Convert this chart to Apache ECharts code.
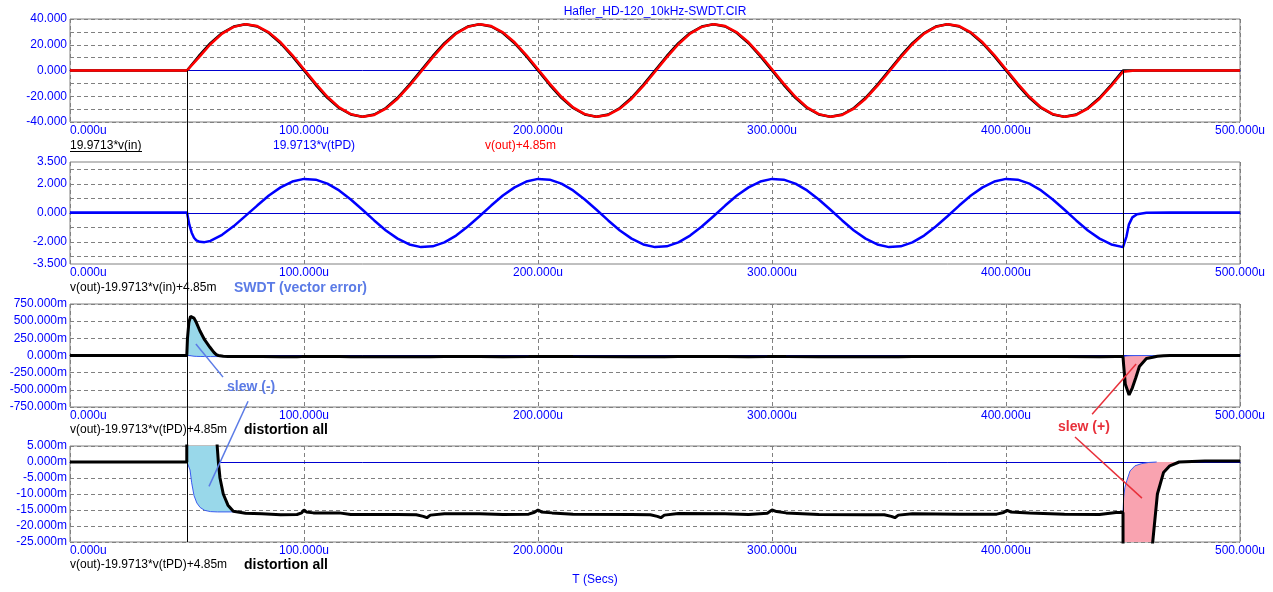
<!DOCTYPE html>
<html><head><meta charset="utf-8">
<script src="https://cdn.jsdelivr.net/npm/echarts@6/dist/echarts.min.js"></script>
<style>html,body{margin:0;padding:0;background:#fff}#c{width:1273px;height:592px}</style>
</head><body><div id="c"></div>
<script>
const FONT = "'Liberation Sans', Arial, sans-serif";

// ---------- DATA (time in µs) ----------
// Panel 1: 19.9713*v(in) and v(out)+4.85m  (V)
const sineT = [0,50,55,60,65,70,75,80,85,90,95,100,105,110,115,120,125,130,135,140,145,
  150,155,160,165,170,175,180,185,190,195,200,205,210,215,220,225,230,235,240,245,
  250,255,260,265,270,275,280,285,290,295,300,305,310,315,320,325,330,335,340,345,
  350,355,360,365,370,375,380,385,390,395,400,405,410,415,420,425,430,435,440,445,450,455,500];
const vIn = [0,
  0,11.1,21.2,29.1,34.2,36.0,34.2,29.1,21.2,11.1,0,-11.1,-21.2,-29.1,-34.2,-36.0,-34.2,-29.1,-21.2,-11.1,
  0,11.1,21.2,29.1,34.2,36.0,34.2,29.1,21.2,11.1,0,-11.1,-21.2,-29.1,-34.2,-36.0,-34.2,-29.1,-21.2,-11.1,
  0,11.1,21.2,29.1,34.2,36.0,34.2,29.1,21.2,11.1,0,-11.1,-21.2,-29.1,-34.2,-36.0,-34.2,-29.1,-21.2,-11.1,
  0,11.1,21.2,29.1,34.2,36.0,34.2,29.1,21.2,11.1,0,-11.1,-21.2,-29.1,-34.2,-36.0,-34.2,-29.1,-21.2,-11.1,
  0,0,0];
const vOut = [0,
  0.0,10.0,20.4,28.6,33.9,36.0,34.5,29.6,21.9,12.0,1.0,-10.2,-20.4,-28.6,-33.9,-36.0,-34.5,-29.6,-21.9,-12.0,
  -1.0,10.2,20.4,28.6,33.9,36.0,34.5,29.6,21.9,12.0,1.0,-10.2,-20.4,-28.6,-33.9,-36.0,-34.5,-29.6,-21.9,-12.0,
  -1.0,10.2,20.4,28.6,33.9,36.0,34.5,29.6,21.9,12.0,1.0,-10.2,-20.4,-28.6,-33.9,-36.0,-34.5,-29.6,-21.9,-12.0,
  -1.0,10.2,20.4,28.6,33.9,36.0,34.5,29.6,21.9,12.0,1.0,-10.2,-20.4,-28.6,-33.9,-36.0,-34.5,-29.6,-21.9,-12.0,
  -1.0,0.0,0.0];

// Panel 2: v(out)-19.9713*v(in)+4.85m  (V)
const errT = [0,50,51,52,53,54,55.5,57.5,60,65,70,75,
  80,85,90,95,100,105,110,115,120,125,130,135,140,145,150,155,160,165,170,175,
  180,185,190,195,200,205,210,215,220,225,230,235,240,245,250,255,260,265,270,275,
  280,285,290,295,300,305,310,315,320,325,330,335,340,345,350,355,360,365,370,375,
  380,385,390,395,400,405,410,415,420,425,430,435,440,445,
  450,450.6,451.5,452.5,454,456,460,470,500];
const errV = [0.04,0.04,-0.8,-1.35,-1.7,-1.88,-1.98,-2.0,-1.92,-1.5,-0.9,-0.2,
  0.51,1.20,1.76,2.16,2.34,2.29,2.02,1.55,0.93,0.22,-0.51,-1.20,-1.76,-2.16,-2.34,-2.29,-2.02,-1.55,-0.93,-0.22,
  0.51,1.20,1.76,2.16,2.34,2.29,2.02,1.55,0.93,0.22,-0.51,-1.20,-1.76,-2.16,-2.34,-2.29,-2.02,-1.55,-0.93,-0.22,
  0.51,1.20,1.76,2.16,2.34,2.29,2.02,1.55,0.93,0.22,-0.51,-1.20,-1.76,-2.16,-2.34,-2.29,-2.02,-1.55,-0.93,-0.22,
  0.51,1.20,1.76,2.16,2.34,2.29,2.02,1.55,0.93,0.22,-0.51,-1.20,-1.76,-2.16,
  -2.34,-2.3,-1.6,-0.8,-0.3,-0.08,0.02,0.04,0.04];

// Panels 3 & 4: v(out)-19.9713*v(tPD)+4.85m  (mV)  [t, mV]
const distAll = [[0,0],[49.9,0],[50.2,250],[50.8,480],[51.5,570],[52.2,575],[53,545],[54,480],[55.5,360],
  [57.5,230],[59.8,120],[61.5,45],[62.5,12],[62.9,5],[63.4,0],[64.1,-5],[65.5,-10],[67.5,-13.5],[69.8,-15.4],
  [75,-16.0],[82,-16.2],[90,-16.5],[97,-16.4],[99,-15.9],[100,-15.0],[101,-15.6],[104,-15.9],[115,-15.9],
  [120,-16.4],[140,-16.4],[148,-16.5],[151,-17.0],[152.5,-17.4],[154,-16.6],[160,-16.2],[175,-16.2],[185,-16.4],
  [196,-16.3],[198.5,-15.7],[200,-15.0],[201.5,-15.6],[206,-15.9],[215,-16.3],[240,-16.4],[248,-16.5],[251,-17.0],
  [252.5,-17.4],[254,-16.6],[260,-16.1],[280,-16.2],[290,-16.4],[298,-16.0],[300,-15.0],[302,-15.5],[306,-15.9],
  [320,-16.4],[340,-16.5],[348,-16.5],[351,-17.0],[352.5,-17.4],[354,-16.6],[360,-16.2],[380,-16.3],[396,-16.3],
  [399,-15.8],[400.5,-15.1],[402,-15.6],[410,-15.9],[425,-16.3],[440,-16.4],[447,-15.8],[450,-15.8],
  [450.3,-150],[451,-420],[452.6,-575],[454,-470],[455.5,-320],[457,-160],[460,-45],[462.7,-25],[464.7,-10],
  [467.3,-3.3],[470,-1.2],[474,0],[485,0.3],[500,0.3]];
// reference (slew-free) curve bounding the slew areas  [t, mV]
const refNeg = [[50,0],[50.4,-0.6],[51.3,-2.5],[52,-6.5],[53,-10.5],[54.2,-12.8],[55.6,-14.2],[57.5,-15.1],
  [60,-15.5],[63,-15.6],[70,-15.6]];
const refPos = [[450,-15.8],[450.3,-11],[450.8,-8],[451.6,-5.9],[453,-2.8],[455.1,-1.2],[458,-0.5],[461,-0.15],[464.4,0]];

const cursorsUs = [50, 450];
const xTicksUs = [0, 500, 100];        // min, max, step
const yRanges = [[-40,40,10],[-3.5,3.5,null],[-750,750,250],[-25,5,5]];
const y2Labels = [-3.5,-2,0,2,3.5];
const y2Grid = [-3,-2,-1,0,1,2,3];

// ---------- CHART ----------
const pair = (T,V) => T.map((t,i)=>[t,V[i]]);
const gridsPx = [{top:19,h:103},{top:162,h:102},{top:304,h:103},{top:446,h:96}];
const blueTxt = '#0000ff';

const xAxes = gridsPx.map((g,i)=>({
  gridIndex:i, type:'value', min:xTicksUs[0], max:xTicksUs[1], interval:xTicksUs[2], position:'bottom',
  axisLine:{show:false, onZero:false}, axisTick:{show:false},
  splitLine:{show:true, lineStyle:{color:'#808080', type:[4,3], width:1}},
  axisLabel:{color:blueTxt, fontSize:12, fontFamily:FONT, margin:3, alignMinLabel:'left',
    showMinLabel:true, showMaxLabel:true, formatter:v=>v.toFixed(3)+'u'}
}));
// zero-line axes (blue line at y = 0 in every panel, drawn beneath the traces)
const zeroAxes = gridsPx.map((g,i)=>({
  gridIndex:i, type:'value', min:xTicksUs[0], max:xTicksUs[1], position:'bottom', z:0,
  axisLine:{show:true, onZero:true, lineStyle:{color:'#0000d0', width:1}},
  axisTick:{show:false}, axisLabel:{show:false}, splitLine:{show:false}
}));
const yAxes = yRanges.map((r,i)=>{
  const ax = {gridIndex:i, type:'value', min:r[0], max:r[1],
    axisLine:{show:false}, axisTick:{show:false},
    splitLine:{show:true, lineStyle:{color:'#808080', type:[4,3], width:1}},
    axisLabel:{color:blueTxt, fontSize:12, fontFamily:FONT, margin:3, showMinLabel:true, showMaxLabel:true}};
  if (r[2] !== null) ax.interval = r[2];
  if (i===0) ax.axisLabel.formatter = v => (Math.abs(v)%20===0 ? v.toFixed(3) : '');
  if (i===1) { ax.axisLabel.customValues = y2Labels; ax.axisTick.customValues = y2Grid; ax.axisLabel.formatter = v=>v.toFixed(3); }
  if (i>=2) ax.axisLabel.formatter = v => v.toFixed(3)+'m';
  return ax;
});

function lineS(i, data, color, w, z){
  return {type:'line', xAxisIndex:i, yAxisIndex:i, data, showSymbol:false, symbol:'none', z, silent:true,
    lineStyle:{color, width:w}, clip:true};
}
function fillS(i, poly, color, z){
  return {type:'custom', xAxisIndex:i, yAxisIndex:i, z, silent:true, data:[[0,0]],
    renderItem(params, api){
      const cs = params.coordSys;
      return {type:'polygon', shape:{points: poly.map(p=>api.coord(p))}, style:{fill:color},
        clipPath:{type:'rect', shape:{x:cs.x, y:cs.y, width:cs.width, height:cs.height}}};
    }};
}
const inRange = (arr,a,b)=>arr.filter(p=>p[0]>=a && p[0]<=b);
const polyNeg = inRange(distAll,50,69.8).concat(refNeg.slice().reverse());
const polyPos = refPos.concat(inRange(distAll,450,474).reverse());

const FILL_NEG = '#99d8ea', FILL_POS = '#f9a3b0';
const series = [
  lineS(0, pair(sineT,vIn), '#000000', 2.5, 2),
  lineS(0, pair(sineT,vOut), '#ff0000', 2.5, 3),
  lineS(1, pair(errT,errV), '#0000ff', 2.5, 3),
  fillS(2, polyNeg, FILL_NEG, 2), fillS(2, polyPos, FILL_POS, 2),
  lineS(2, refNeg, '#3a5cf0', 1, 3), lineS(2, refPos, '#3a5cf0', 1, 3),
  lineS(2, distAll, '#000000', 3, 4),
  fillS(3, polyNeg, FILL_NEG, 2), fillS(3, polyPos, FILL_POS, 2),
  lineS(3, refNeg, '#3a5cf0', 1, 3), lineS(3, refPos, '#3a5cf0', 1, 3),
  lineS(3, distAll, '#000000', 3, 4)
];

const chart = echarts.init(document.getElementById('c'), null, {renderer:'canvas'});
chart.setOption({
  animation:false, backgroundColor:'#ffffff', textStyle:{fontFamily:FONT},
  grid: gridsPx.map(g=>({left:70, right:33, top:g.top, height:g.h, show:true,
    borderColor:'#808080', borderWidth:1, backgroundColor:'transparent'})),
  xAxis:xAxes.concat(zeroAxes), yAxis:yAxes, series
});

// ---------- TEXT & ANNOTATIONS ----------
const labels = [
  {text:'Hafler_HD-120_10kHz-SWDT.CIR', x:655, y:12, color:blueTxt, font:'12px '+FONT, align:'center'},
  {text:'19.9713*v(in)', x:70, y:146, color:'#000', font:'12px '+FONT},
  {text:'19.9713*v(tPD)', x:273, y:146, color:blueTxt, font:'12px '+FONT},
  {text:'v(out)+4.85m', x:485, y:146, color:'#ff0000', font:'12px '+FONT},
  {text:'v(out)-19.9713*v(in)+4.85m', x:70, y:288, color:'#000', font:'12px '+FONT},
  {text:'SWDT (vector error)', x:234, y:288, color:'#5b7be6', font:'bold 14px '+FONT},
  {text:'v(out)-19.9713*v(tPD)+4.85m', x:70, y:430, color:'#000', font:'12px '+FONT},
  {text:'distortion all', x:244, y:430, color:'#000', font:'bold 14px '+FONT},
  {text:'v(out)-19.9713*v(tPD)+4.85m', x:70, y:565, color:'#000', font:'12px '+FONT},
  {text:'distortion all', x:244, y:565, color:'#000', font:'bold 14px '+FONT},
  {text:'T (Secs)', x:595, y:580, color:blueTxt, font:'12px '+FONT, align:'center'}
];
// annotation anchors in data coordinates: [gridIndex, [t µs, value]]
const annotations = [
  {text:'slew (-)', color:'#5b7be6', at:[2,[77.4,-461]],
   lines:[[[2,[53.8,168]],[2,[65.4,-315]]], [[2,[76.1,-666]],[3,[59.4,-7.6]]]]},
  {text:'slew (+)', color:'#e8303a', at:[2,[433.3,-1047]],
   lines:[[[2,[436.8,-857]],[2,[455.6,-124]]], [[3,[429.5,7.8]],[3,[458.1,-11.3]]]]}
];
const px = (a)=>chart.convertToPixel({xAxisIndex:a[0], yAxisIndex:a[0]}, a[1]);
const els = [];
labels.forEach(l=>els.push({type:'text', x:l.x, y:l.y, z:100, silent:true,
  style:{text:l.text, fill:l.color, font:l.font, textAlign:l.align||'left', align:l.align||'left',
    textVerticalAlign:'middle', verticalAlign:'middle'}}));
els.push({type:'line', z:100, silent:true, shape:{x1:70, y1:151.5, x2:142, y2:151.5}, style:{stroke:'#000', lineWidth:1}});
cursorsUs.forEach(c=>{
  const p1 = px([0,[c,0]]), p2 = px([3,[c,yRanges[3][0]]]);
  const x = Math.round(p1[0])+0.5;
  els.push({type:'line', z:100, silent:true, shape:{x1:x, y1:p1[1], x2:x, y2:p2[1]}, style:{stroke:'#000', lineWidth:1}});
});
annotations.forEach(a=>{
  const c = px(a.at);
  els.push({type:'text', x:c[0], y:c[1], z:101, silent:true,
    style:{text:a.text, fill:a.color, font:'bold 14px '+FONT, textAlign:'center', align:'center',
      textVerticalAlign:'middle', verticalAlign:'middle'}});
  a.lines.forEach(ln=>{
    const p = px(ln[0]), q = px(ln[1]);
    els.push({type:'line', z:101, silent:true, shape:{x1:p[0], y1:p[1], x2:q[0], y2:q[1]},
      style:{stroke:a.color, lineWidth:1.5}});
  });
});
chart.setOption({graphic:{elements:els}});
</script></body></html>
